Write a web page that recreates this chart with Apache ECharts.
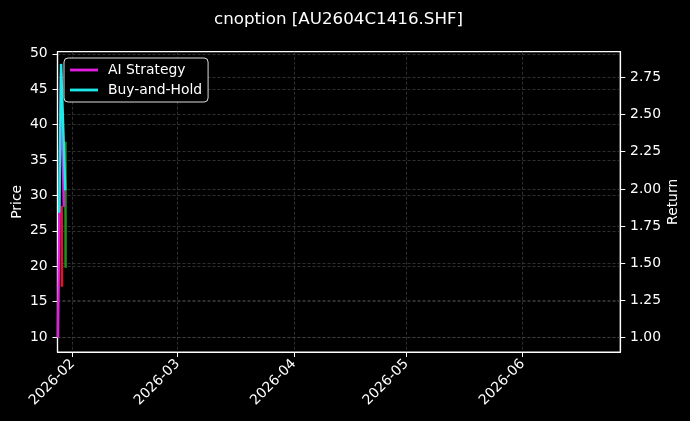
<!DOCTYPE html>
<html>
<head>
<meta charset="utf-8">
<script src="https://cdn.jsdelivr.net/npm/echarts@6/dist/echarts.min.js"></script>
<style>
html,body{margin:0;padding:0;background:#000;}
#chart{width:690px;height:421px;}
</style>
</head>
<body>
<div id="chart"></div>
<script>
var titleText = 'cnoption [AU2604C1416.SHF]';
var xMin = '2026-01-27 23:10';
var xMax = '2026-06-27 01:00';
var monthTicks = ['2026-02-01 00:00', '2026-03-01 00:00', '2026-04-01 00:00', '2026-05-01 00:00', '2026-06-01 00:00'];
var priceTicks = [10, 15, 20, 25, 30, 35, 40, 45, 50];
var returnTicks = [1.00, 1.25, 1.50, 1.75, 2.00, 2.25, 2.50, 2.75];
var priceRange = [7.9, 50.3];
var returnRange = [0.904, 2.922];

var priceDown = [['2026-01-29 02:00', 28.5], ['2026-01-29 04:00', 17.1]];
var priceUp = [['2026-01-30 02:00', 37.6], ['2026-01-30 03:00', 19.8]];
var aiStrategy = [['2026-01-28 02:00', 1.00], ['2026-01-28 22:00', 2.78], ['2026-01-29 16:00', 1.88]];
var buyHold = [['2026-01-28 10:00', 1.84], ['2026-01-28 22:00', 2.84], ['2026-01-30 01:00', 1.99]];

function ts(s) { return new Date(s.replace(' ', 'T') + ':00').getTime(); }
var monthTickTs = monthTicks.map(ts);
function toTs(arr) { return arr.map(function (p) { return [ts(p[0]), p[1]]; }); }

var font = 'DejaVu Sans';
var fs = 13.9;
var gridLineStyle = { color: '#444', width: 0.7, type: [3, 2] };

var chart = echarts.init(document.getElementById('chart'), null, { renderer: 'canvas' });
chart.setOption({
  backgroundColor: '#000',
  animation: false,
  textStyle: { fontFamily: font },
  title: {
    text: titleText, left: 209, top: 6,
    textStyle: { color: '#fff', fontSize: 16.7, fontWeight: 'normal', fontFamily: font }
  },
  grid: { left: 57.5, right: 69.7, top: 51.7, bottom: 69, containLabel: false, outerBoundsMode: 'none',
    show: true, borderColor: '#fff', borderWidth: 1.2, backgroundColor: 'transparent' },
  legend: {
    left: 64, top: 58, orient: 'vertical',
    data: ['AI Strategy', 'Buy-and-Hold'],
    icon: 'rect', itemWidth: 28, itemHeight: 2.8, itemGap: 6,
    padding: [5, 6, 5, 6],
    backgroundColor: '#000', borderColor: '#ddd', borderWidth: 1, borderRadius: 4,
    textStyle: { color: '#fff', fontSize: fs, fontFamily: font, padding: [0, 0, 0, 5] }
  },
  xAxis: {
    type: 'value', min: ts(xMin), max: ts(xMax),
    axisLine: { show: true, lineStyle: { color: '#fff', width: 1.2 } },
    axisTick: { show: true, length: 5, lineStyle: { color: '#fff' }, customValues: monthTickTs },
    axisLabel: {
      color: '#fff', fontSize: fs, fontFamily: font, rotate: 45, margin: 9.8,
      customValues: monthTickTs,
      formatter: function (v) { var d = new Date(v); var m = d.getMonth() + 1; return d.getFullYear() + '-' + (m < 10 ? '0' + m : m); }
    },
    splitLine: { show: true, lineStyle: gridLineStyle, customValues: monthTickTs }
  },
  yAxis: [{
    type: 'value', min: priceRange[0], max: priceRange[1], position: 'left',
    name: 'Price', nameLocation: 'middle', nameGap: 33, nameRotate: 90, nameMoveOverlap: false,
    nameTextStyle: { color: '#fff', fontSize: fs, fontFamily: font },
    axisLine: { show: true, lineStyle: { color: '#fff', width: 1.2 } },
    axisTick: { show: true, length: 5, lineStyle: { color: '#fff' }, customValues: priceTicks },
    axisLabel: { color: '#fff', fontSize: fs, fontFamily: font, margin: 9.8, customValues: priceTicks },
    splitLine: { show: true, lineStyle: gridLineStyle, customValues: priceTicks }
  }, {
    type: 'value', min: returnRange[0], max: returnRange[1], position: 'right',
    name: 'Return', nameLocation: 'middle', nameGap: 46, nameRotate: 90, nameMoveOverlap: false,
    nameTextStyle: { color: '#fff', fontSize: fs, fontFamily: font },
    axisLine: { show: true, lineStyle: { color: '#fff', width: 1.2 } },
    axisTick: { show: true, length: 5, lineStyle: { color: '#fff' }, customValues: returnTicks },
    axisLabel: { color: '#fff', fontSize: fs, fontFamily: font, margin: 9.8, customValues: returnTicks,
      formatter: function (v) { return v.toFixed(2); } },
    splitLine: { show: true, lineStyle: gridLineStyle, customValues: returnTicks }
  }],
  series: [{
    name: 'Price Down', type: 'line', yAxisIndex: 0, data: toTs(priceDown), symbol: 'none',
    lineStyle: { color: '#e8102a', width: 2.5 }, itemStyle: { color: '#e8102a' }, z: 2
  }, {
    name: 'Price Up', type: 'line', yAxisIndex: 0, data: toTs(priceUp), symbol: 'none',
    lineStyle: { color: '#1f8f1f', width: 2.5 }, itemStyle: { color: '#1f8f1f' }, z: 2
  }, {
    name: 'AI Strategy', type: 'line', yAxisIndex: 1, data: toTs(aiStrategy), symbol: 'none',
    lineStyle: { color: '#e01ee0', width: 2.5 }, itemStyle: { color: '#e01ee0' }, z: 3
  }, {
    name: 'Buy-and-Hold', type: 'line', yAxisIndex: 1, data: toTs(buyHold), symbol: 'none',
    lineStyle: { color: '#1ee8e8', width: 2.5 }, itemStyle: { color: '#1ee8e8' }, z: 4
  }]
});
</script>
</body>
</html>
